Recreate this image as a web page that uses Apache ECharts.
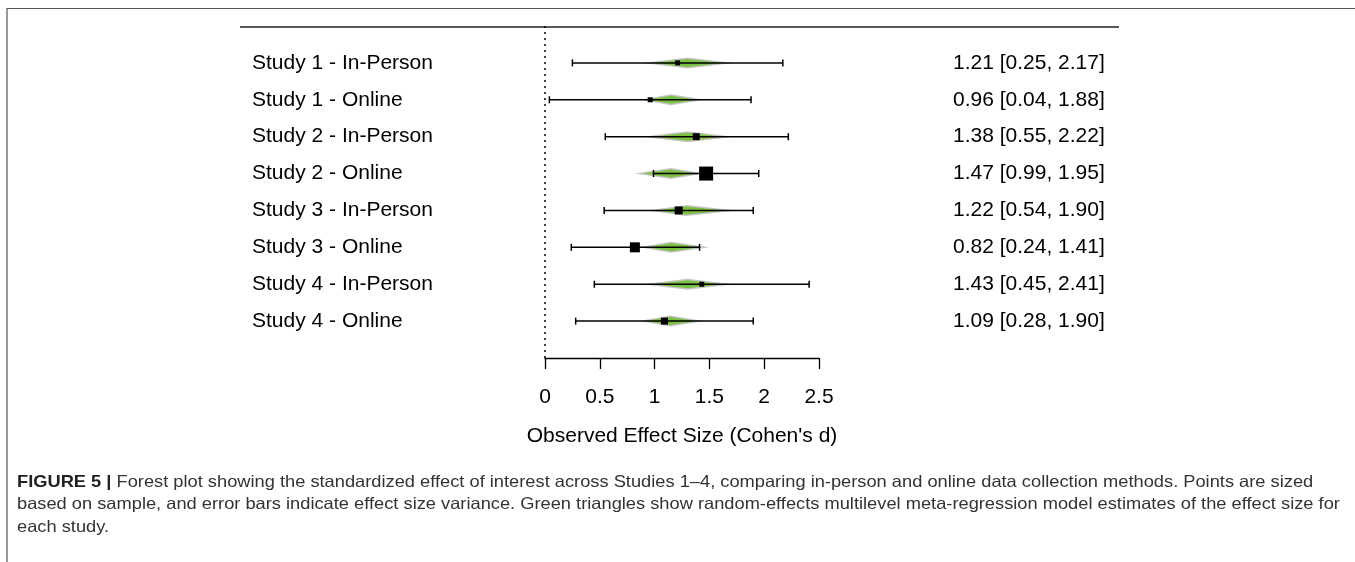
<!DOCTYPE html>
<html>
<head>
<meta charset="utf-8">
<script src="https://cdn.jsdelivr.net/npm/echarts@6/dist/echarts.min.js"></script>
<style>
  html, body { margin: 0; padding: 0; background: #fff; }
  #main { width: 1355px; height: 562px; }
</style>
</head>
<body>
<div id="main"></div>
<script>
// studies (top to bottom)
var studies = ['Study 1 - In-Person', 'Study 1 - Online', 'Study 2 - In-Person', 'Study 2 - Online',
               'Study 3 - In-Person', 'Study 3 - Online', 'Study 4 - In-Person', 'Study 4 - Online'];
// observed effect and 95% CI
var est   = [1.21, 0.96, 1.38, 1.47, 1.22, 0.82, 1.43, 1.09];
var lower = [0.25, 0.04, 0.55, 0.99, 0.54, 0.24, 0.45, 0.28];
var upper = [2.17, 1.88, 2.22, 1.95, 1.90, 1.41, 2.41, 1.90];
// point weight (box size)
var weight = [5, 5, 7, 14, 8, 10, 5, 7];
// model estimates (green diamonds)
var modelEst = [1.30, 1.15, 1.30, 1.15, 1.29, 1.15, 1.30, 1.14];
var modelLo  = [0.89, 0.87, 0.89, 0.82, 0.93, 0.86, 0.89, 0.86];
var modelHi  = [1.72, 1.46, 1.72, 1.45, 1.75, 1.50, 1.72, 1.45];

function fmt(v) { return v.toFixed(2); }
var ciText = est.map(function (v, i) {
  return fmt(v) + ' [' + fmt(lower[i]) + ', ' + fmt(upper[i]) + ']';
});

var leftCats = [''].concat(studies, ['']);
var rightCats = [''].concat(ciText, ['']);

var rowData = est.map(function (v, i) {
  return [v, i + 1, lower[i], upper[i], modelEst[i], modelLo[i], modelHi[i], weight[i]];
});

var font = 'Liberation Sans, Arial, sans-serif';

var chart = echarts.init(document.getElementById('main'));
chart.setOption({
  animation: false,
  backgroundColor: '#fff',
  grid: { left: 545, width: 274, top: 26, height: 332 },
  xAxis: {
    type: 'value', min: 0, max: 2.5, interval: 0.5,
    splitLine: { show: false },
    axisLine: { show: true, lineStyle: { color: '#000', width: 1.3 } },
    axisTick: { show: true, length: 11, lineStyle: { color: '#000', width: 1.3 } },
    axisLabel: { color: '#000', fontSize: 21, fontFamily: font, margin: 29,
      formatter: function (v) { return String(v); } },
    name: "Observed Effect Size (Cohen's d)",
    nameLocation: 'middle', nameGap: 68,
    nameTextStyle: { color: '#000', fontSize: 21, fontFamily: font }
  },
  yAxis: [{
    type: 'category', data: leftCats, inverse: true, boundaryGap: false,
    axisLine: { show: false }, axisTick: { show: false }, splitLine: { show: false },
    axisLabel: { align: 'left', margin: 293, color: '#000', fontSize: 21, fontFamily: font, interval: 0 }
  }, {
    type: 'category', data: rightCats, inverse: true, boundaryGap: false, position: 'right',
    axisLine: { show: false }, axisTick: { show: false }, splitLine: { show: false },
    axisLabel: { align: 'left', margin: 134, color: '#000', fontSize: 21, fontFamily: font, interval: 0 }
  }],
  graphic: [
    { type: 'polyline', shape: { points: [[7, 562], [7, 8.5], [1355, 8.5]] },
      style: { stroke: '#555', lineWidth: 1.2, fill: null } },
    { type: 'line', shape: { x1: 240, y1: 27, x2: 1119, y2: 27 },
      style: { stroke: '#222', lineWidth: 1.6 } },
    { type: 'text', x: 17, y: 471, scaleX: 1.107,
      style: { text: '{b|FIGURE 5 |} Forest plot showing the standardized effect of interest across Studies 1\u20134, comparing in-person and online data collection methods. Points are sized\n' +
                     'based on sample, and error bars indicate effect size variance. Green triangles show random-effects multilevel meta-regression model estimates of the effect size for\n' +
                     'each study.',
        fill: '#333', fontSize: 16.5, lineHeight: 22.5, fontFamily: font,
        rich: { b: { fontWeight: 'bold', fill: '#222', fontSize: 16.5, fontFamily: font } } } }
  ],
  series: [{
    type: 'custom',
    data: rowData,
    encode: { x: 0, y: 1 },
    markLine: {
      silent: true, symbol: 'none', label: { show: false },
      lineStyle: { color: '#000', type: [2, 4], width: 1.5 },
      data: [{ xAxis: 0 }]
    },
    renderItem: function (params, api) {
      var y = api.coord([0, api.value(1)])[1];
      var xm = api.coord([api.value(4), 0])[0];
      var xl = api.coord([api.value(5), 0])[0];
      var xh = api.coord([api.value(6), 0])[0];
      var x0 = api.coord([api.value(2), 0])[0];
      var x1 = api.coord([api.value(3), 0])[0];
      var xe = api.coord([api.value(0), 0])[0];
      var s = api.value(7);
      var h = 5.5, ih = 4;
      var gx = 0.22;
      var children = [
        { type: 'polygon', shape: { points: [[xl, y], [xm, y - h], [xh, y], [xm, y + h]] },
          style: { fill: '#c4c4c4' } },
        { type: 'polygon', shape: { points: [[xl + (xm - xl) * gx, y], [xm, y - ih], [xh - (xh - xm) * gx, y], [xm, y + ih]] },
          style: { fill: '#7cc043' } },
        { type: 'line', shape: { x1: x0, y1: y, x2: x1, y2: y }, style: { stroke: '#000', lineWidth: 1.5 } },
        { type: 'line', shape: { x1: x0, y1: y - 3.5, x2: x0, y2: y + 3.5 }, style: { stroke: '#000', lineWidth: 1.5 } },
        { type: 'line', shape: { x1: x1, y1: y - 3.5, x2: x1, y2: y + 3.5 }, style: { stroke: '#000', lineWidth: 1.5 } },
        { type: 'rect', shape: { x: xe - s / 2, y: y - s / 2, width: s, height: s }, style: { fill: '#000' } }
      ];
      return { type: 'group', children: children };
    }
  }]
});
</script>
</body>
</html>
